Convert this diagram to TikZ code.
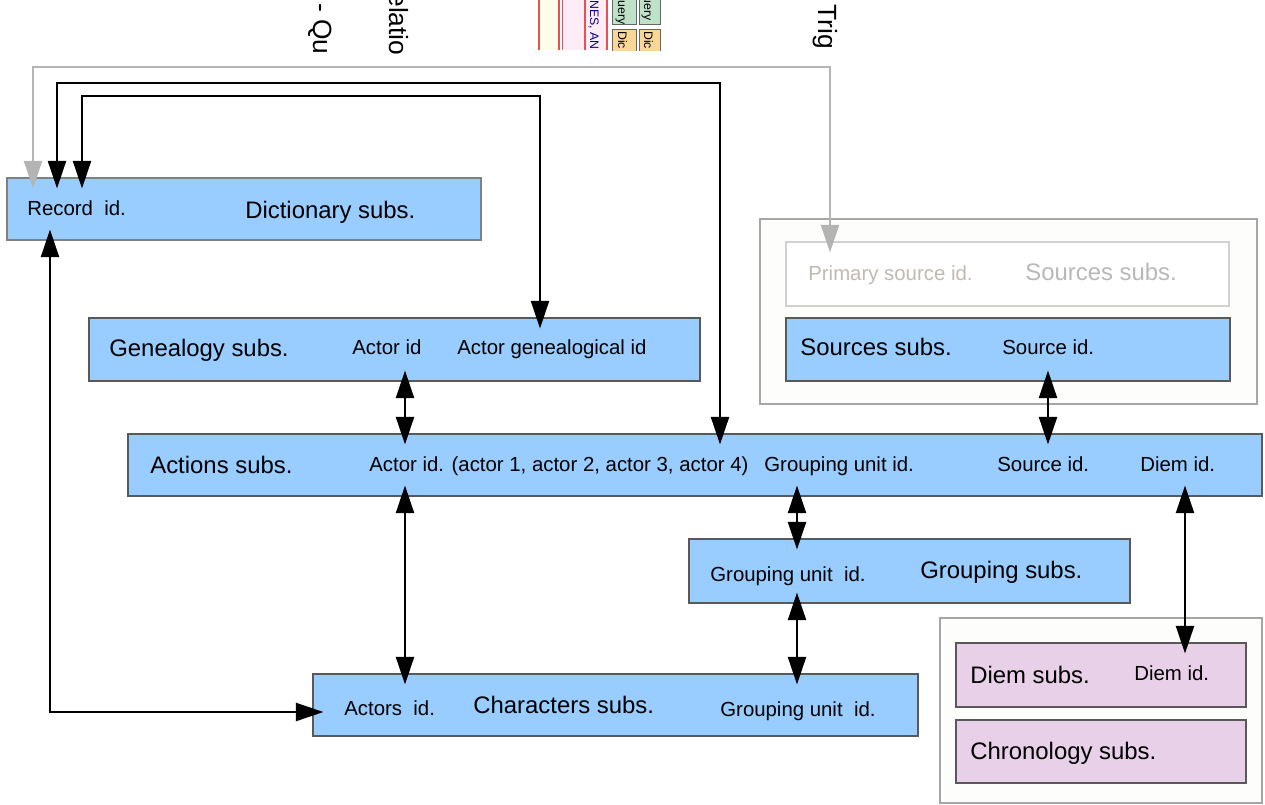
\documentclass[tikz,border=0pt]{standalone}
\usepackage{fontspec}
\setmainfont{Liberation Sans}
\usetikzlibrary{arrows.meta, positioning, fit, calc}
\definecolor{subsblue}{RGB}{153,204,255}
\definecolor{subspink}{RGB}{232,208,232}
\definecolor{groupfill}{RGB}{253,253,251}
\definecolor{faintline}{RGB}{180,180,180}
\definecolor{fainttext}{RGB}{192,186,180}
\definecolor{stripred}{RGB}{235,80,80}
\definecolor{querygreen}{RGB}{190,225,200}
\definecolor{dictorange}{RGB}{250,215,150}
\tikzset{subs/.style={draw=black!65, fill=subsblue, line width=0.6pt, inner sep=0pt}}
\tikzset{chrono/.style={subs, fill=subspink}}
\tikzset{group/.style={draw=black!35, fill=groupfill, line width=0.6pt, inner sep=0pt}}
\tikzset{ghost/.style={draw=black!18, fill=white, line width=0.6pt, inner sep=0pt}}
\tikzset{subsname/.style={font=\fontsize{13.6}{16}\selectfont, anchor=west, inner sep=0pt, text height=1.07em, text depth=0.21em}}
\tikzset{field/.style={font=\fontsize{11.6}{14}\selectfont, anchor=west, inner sep=0pt, text height=1.07em, text depth=0.21em}}
\tikzset{link/.style={line width=1.15pt, {Triangle[length=0.55cm, width=0.36cm]}-{Triangle[length=0.55cm, width=0.36cm]}, shorten <=-0.22cm, shorten >=-0.22cm}}
\tikzset{ghostlink/.style={link, faintline}}
\tikzset{frag/.style={font=\fontsize{15}{18}\selectfont, rotate=-90, anchor=base west, inner sep=0pt}}
\tikzset{tinyfrag/.style={font=\fontsize{7}{8}\selectfont, rotate=-90, anchor=base west, inner sep=0pt}}

\begin{document}
\begin{tikzpicture}[x=0.02cm, y=-0.02cm, node distance=4mm]
\useasboundingbox[fill=white] (0,0) rectangle (1265,805);

% cut-off bits of the next sheet
\begin{scope}
\clip (0,0) rectangle (1265,58);
\node[frag] (fragq) at (313,3) {- Qu};
\node[frag] (fragrel) at (389,-8) {elatio};
\node[frag] (fragtrig) at (818,4) {Trig};
\end{scope}
\begin{scope}
\clip (0,0) rectangle (1265,50);
\fill[yellow!8] (540,0) rectangle (558,50);
\fill[magenta!7] (563,0) rectangle (606,50);
\fill[stripred] (538,0) rectangle (540,50);
\fill[stripred] (558,0) rectangle (559.5,50);
\fill[stripred] (561.5,0) rectangle (563,50);
\fill[stripred] (584,0) rectangle (586,50);
\fill[stripred] (606,0) rectangle (608,50);
\node[tinyfrag, text=blue!60!black] (fragnames) at (590,0) {NES, AN};
\node[draw=black!60, fill=querygreen, minimum width=24*0.02cm, minimum height=27*0.02cm, inner sep=0pt] (qry1) at (624,11) {};
\node[draw=black!60, fill=querygreen, minimum width=21*0.02cm, minimum height=27*0.02cm, inner sep=0pt] (qry2) at (649.5,11) {};
\node[draw=black!60, fill=dictorange, minimum width=24*0.02cm, minimum height=24*0.02cm, inner sep=0pt] (dic1) at (624,41) {};
\node[draw=black!60, fill=dictorange, minimum width=21*0.02cm, minimum height=24*0.02cm, inner sep=0pt] (dic2) at (649.5,41) {};
\node[tinyfrag] (qrytxt1) at (618,0) {uery};
\node[tinyfrag] (qrytxt2) at (644,-4) {uery};
\node[tinyfrag] (dictxt1) at (618,31) {Dic};
\node[tinyfrag] (dictxt2) at (644,31) {Dic};
\end{scope}

% groups
\node[group, fit={(760,219) (1257,404)}] (srcgroup) {};
\node[group, fit={(940,618) (1262,803)}] (chrgroup) {};

% subs boxes
\node[subs, draw=black!50, fit={(7,178) (481,240)}] (dict) {};
\node[subs, fit={(89,318) (700,381)}] (gen) {};
\node[ghost, fit={(786,242) (1229,306)}] (prim) {};
\node[subs, fit={(786,318) (1230,381)}] (src) {};
\node[subs, fit={(128,434) (1262,496)}] (act) {};
\node[subs, fit={(689,539) (1130,603)}] (grp) {};
\node[subs, fit={(313,674) (918,736)}] (char) {};
\node[chrono, fit={(956,643) (1246,707)}] (diem) {};
\node[chrono, fit={(956,720) (1246,783)}] (chron) {};

% labels
\node[field] (recid) at (27,208) {Record\ \ id.};
\node[subsname] (dictname) at (245,211) {Dictionary subs.};
\node[subsname] (genname) at (109,349) {Genealogy subs.};
\node[field] (genactor) at (352,347) {Actor id};
\node[field] (genid) at (457,347) {Actor genealogical id};
\node[field, text=fainttext] (primid) at (808,273) {Primary source id.};
\node[subsname, text=black!28] (primname) at (1025,273) {Sources subs.};
\node[subsname] (srcname) at (800,348) {Sources subs.};
\node[field] (srcid) at (1002,347) {Source id.};
\node[subsname] (actname) at (150,466) {Actions subs.};
\node[field] (actactor) at (369,464) {Actor id. (actor 1, actor 2, actor 3, actor 4)};
\node[field] (actgroup) at (764,464) {Grouping unit id.};
\node[field] (actsrc) at (997,464) {Source id.};
\node[field] (actdiem) at (1140,464) {Diem id.};
\node[field] (grpid) at (710,574) {Grouping unit\ \ id.};
\node[subsname] (grpname) at (920,571) {Grouping subs.};
\node[field] (charactor) at (344,708) {Actors\ \ id.};
\node[subsname] (charname) at (473,706) {Characters subs.};
\node[field] (chargroup) at (720,709) {Grouping unit\ \ id.};
\node[subsname] (diemname) at (970,676) {Diem subs.};
\node[field] (diemid) at (1134,673) {Diem id.};
\node[subsname] (chronname) at (970,752) {Chronology subs.};

% columns and corners of the connectors
\coordinate (gcol) at (33,67);
\coordinate (gright) at (830,67);
\coordinate (bcol) at (57,83);
\coordinate (bright) at (720,83);
\coordinate (ccol) at (82,96);
\coordinate (cright) at (540,96);
\coordinate (rcol) at (50,712);
\coordinate (actorcol) at (405,0);
\coordinate (srccol) at (1048,0);
\coordinate (groupcol) at (797,0);
\coordinate (diemcol) at (1185,0);

\draw[ghostlink] (dict.north -| gcol) -- (gcol) -- (gright) -- (prim.north -| gright);
\draw[link] (dict.north -| bcol) -- (bcol) -- (bright) -- (act.north -| bright);
\draw[link] (dict.north -| ccol) -- (ccol) -- (cright) -- (gen.north -| cright);
\draw[link] (dict.south -| rcol) -- (rcol) -- (char.west |- rcol);
\draw[link] (gen.south -| actorcol) -- (act.north -| actorcol);
\draw[link] (act.south -| actorcol) -- (char.north -| actorcol);
\draw[link] (src.south -| srccol) -- (act.north -| srccol);
\draw[link] (act.south -| groupcol) -- (grp.north -| groupcol);
\draw[link] (grp.south -| groupcol) -- (char.north -| groupcol);
\draw[link] (act.south -| diemcol) -- (diem.north -| diemcol);
\end{tikzpicture}
\end{document}
